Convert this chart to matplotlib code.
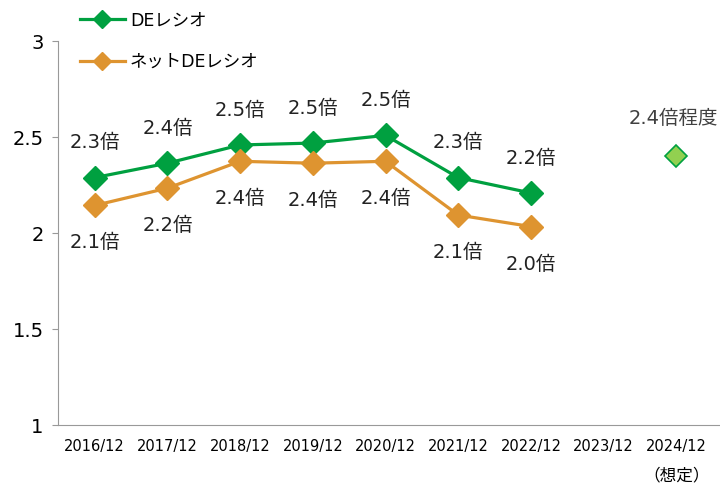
import numpy as np
import matplotlib.pyplot as plt

plt.rcParams['font.family'] = ['DejaVu Sans', 'Noto Sans CJK JP']

# データ
periods = ['2016/12', '2017/12', '2018/12', '2019/12', '2020/12',
           '2021/12', '2022/12', '2023/12', '2024/12']
de_ratio = [2.29, 2.365, 2.46, 2.47, 2.51, 2.29, 2.21]
net_de_ratio = [2.145, 2.235, 2.375, 2.365, 2.375, 2.095, 2.035]
de_labels = ['2.3倍', '2.4倍', '2.5倍', '2.5倍', '2.5倍', '2.3倍', '2.2倍']
net_labels = ['2.1倍', '2.2倍', '2.4倍', '2.4倍', '2.4倍', '2.1倍', '2.0倍']
forecast_value = 2.4
forecast_label = '2.4倍程度'

green = '#00A040'
orange = '#DE9430'

fig, ax = plt.subplots(figsize=(7.2, 4.86), dpi=100)
fig.subplots_adjust(left=0.08, right=1.0, top=0.915, bottom=0.125)

x = np.arange(len(de_ratio))
l1, = ax.plot(x, de_ratio, color=green, lw=2.3, marker='D', ms=12, label='DEレシオ')
l2, = ax.plot(x, net_de_ratio, color=orange, lw=2.3, marker='D', ms=12, label='ネットDEレシオ')
ax.plot([8], [forecast_value], marker='D', ms=11.5, color='#92D050',
        markeredgecolor=green, markeredgewidth=1.2, ls='none')

# データラベル
for xi, v, t in zip(x, de_ratio, de_labels):
    ax.annotate(t, (xi, v), xytext=(0, 25), textcoords='offset points',
                ha='center', va='center', fontsize=14, color='#222222')
for xi, v, t in zip(x, net_de_ratio, net_labels):
    ax.annotate(t, (xi, v), xytext=(0, -27), textcoords='offset points',
                ha='center', va='center', fontsize=14, color='#222222')
ax.annotate(forecast_label, (8, forecast_value), xytext=(-2, 27), textcoords='offset points',
            ha='center', va='center', fontsize=14, color='#404040')

ax.set_ylim(1, 3)
ax.set_yticks([1, 1.5, 2, 2.5, 3])
ax.set_yticklabels(['1', '1.5', '2', '2.5', '3'])
ax.set_xlim(-0.51, 8.6)
ax.set_xticks(np.arange(len(periods)))
ax.set_xticklabels(periods)

ax.tick_params(axis='y', labelsize=14, length=4, color='#999999', pad=6)
ax.tick_params(axis='x', labelsize=10.5, length=0, pad=10)
for s in ['top', 'right']:
    ax.spines[s].set_visible(False)
for s in ['left', 'bottom']:
    ax.spines[s].set_color('#999999')

ax.text(8, -0.13, '（想定）', transform=ax.get_xaxis_transform(),
        ha='center', va='center', fontsize=12)

fig.legend(handles=[l1, l2], loc='upper left', bbox_to_anchor=(0.095, 1.0),
           frameon=False, fontsize=12.5, handlelength=2.6, labelspacing=1.35,
           handletextpad=0.3, borderaxespad=0.25, markerscale=0.75)

plt.savefig('out.png')
